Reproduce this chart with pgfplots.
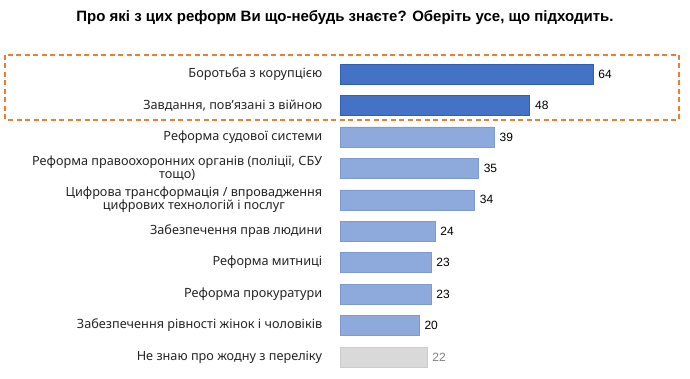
\documentclass[border=0pt]{standalone}
\usepackage{pgfplots}
\pgfplotsset{compat=1.18}
\usepackage{fontspec}
\setmainfont{Noto Sans}
\newfontfamily\arialf{Liberation Sans}
\definecolor{dblue}{HTML}{4472C4}
\definecolor{dblueE}{HTML}{2F5FB8}
\definecolor{lblue}{HTML}{8EA9DB}
\definecolor{lblueE}{HTML}{7C9AD6}
\definecolor{lgray}{HTML}{D9D9D9}
\definecolor{lgrayE}{HTML}{CCCCCC}
\definecolor{orng}{HTML}{ED7D31}
\begin{document}
\begin{tikzpicture}
\path[use as bounding box] (0,0) rectangle (690pt,-379pt);
\node[font=\arialf\bfseries\fontsize{15}{17}\selectfont] at (345pt,-18pt) {Про які з цих реформ Ви що-небудь знаєте? Оберіть усе, що підходить.};
\begin{axis}[
  at={(340pt,-58.3pt)}, anchor=north west,
  scale only axis, width=395pt, height=314.4pt,
  xbar, bar width=20pt, bar shift=0pt,
  xmin=0, xmax=100, ymin=-0.5, ymax=9.5, y dir=reverse,
  axis line style={draw=none}, xtick=\empty, tick style={draw=none},
  ytick={0,...,9},
  yticklabels={Боротьба з корупцією, {Завдання, пов'язані з війною}, Реформа судової системи, {Реформа правоохоронних органів (поліції, СБУ\\тощо)}, Цифрова трансформація / впровадження\\цифрових технологій і послуг, Забезпечення прав людини, Реформа митниці, Реформа прокуратури, Забезпечення рівності жінок і чоловіків, Не знаю про жодну з переліку},
  yticklabel style={anchor=east, align=center, xshift=-10pt, font=\fontsize{12.7}{13}\selectfont, text=black!85},
  nodes near coords,
  nodes near coords style={anchor=west, xshift=2pt, font=\arialf\fontsize{12}{13}\selectfont, /pgf/number format/assume math mode=true},
  clip=false,
]
\addplot[fill=dblue, draw=dblueE] coordinates {(64,0) (48,1)};
\addplot[fill=lblue, draw=lblueE] coordinates {(39,2) (35,3) (34,4) (24,5) (23,6) (23,7) (20,8)};
\addplot[fill=lgray, draw=lgrayE, nodes near coords style={text=black!50}] coordinates {(22,9)};
\end{axis}
\draw[orng, line width=1.3pt, dash pattern=on 5pt off 3.5pt] (5pt,-55pt) rectangle (679pt,-120pt);
\end{tikzpicture}
\end{document}
